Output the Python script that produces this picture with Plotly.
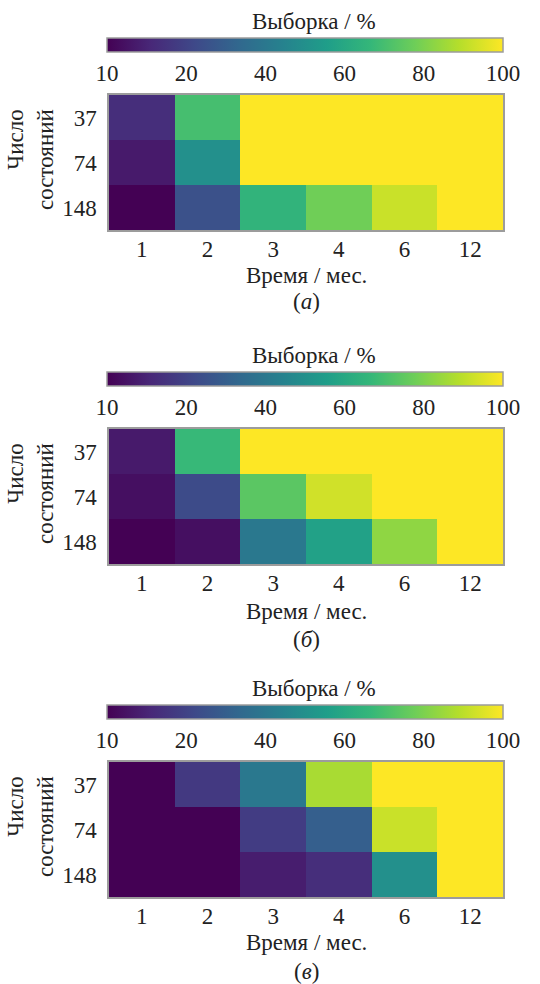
import numpy as np
import plotly.graph_objects as go

# Categories
months = ["1", "2", "3", "4", "6", "12"]
states = ["37", "74", "148"]
cbar_ticks = [10, 20, 40, 60, 80, 100]
panel_labels = ["(<i>а</i>)", "(<i>б</i>)", "(<i>в</i>)"]

# Sample share (%) per number of states (rows) and time span (columns)
sample_a = [[16.5, 70, 100, 100, 100, 100],
            [13.5, 50, 100, 100, 100, 100],
            [10, 25, 65, 78, 92, 100]]
sample_b = [[13.5, 67, 100, 100, 100, 100],
            [12, 23, 74, 93, 100, 100],
            [10, 12, 40, 57, 83, 100]]
sample_c = [[10, 18.5, 40, 87, 100, 100],
            [10, 10, 19, 30, 92, 100],
            [10, 10, 14, 16.5, 50, 100]]

panels = [sample_a, sample_b, sample_c]

W, H = 540, 984
FONT = "Liberation Serif, Times New Roman, serif"
TXT = "#222222"
EDGE = "#9c9c9c"
FS = 23


def py(px):
    return 1 - px / H


# colour norm: piecewise-linear between the colourbar tick values
def norm(vals):
    return np.interp(np.asarray(vals, dtype=float), cbar_ticks, np.arange(len(cbar_ticks)))


fig = go.Figure()
offsets = [0, 334, 667]
hm_left, hm_right = 109, 503
cb_left, cb_right = 107, 503
title_y = [275, 277, 275]
label_y = [301, 305, 304]

annotations = []
for i, (vals, off) in enumerate(zip(panels, offsets)):
    n = "" if i == 0 else str(i + 1)
    ca = "coloraxis" + n
    fig.add_trace(go.Heatmap(
        z=norm(vals), x=months, y=states, customdata=vals,
        hovertemplate="%{customdata}%<extra></extra>",
        coloraxis=ca, xaxis="x" + n, yaxis="y" + n,
    ))
    top, bot = 95 + off, 230 + off
    axis_common = dict(showline=True, mirror=True, linecolor=EDGE, linewidth=1.5,
                       showgrid=False, zeroline=False, ticks="",
                       tickfont=dict(family=FONT, size=FS, color=TXT))
    fig.layout["xaxis" + n] = dict(domain=[hm_left / W, hm_right / W], anchor="y" + n,
                                   ticklabelstandoff=-2, **axis_common)
    fig.layout["yaxis" + n] = dict(domain=[py(bot), py(top)], anchor="x" + n,
                                   autorange="reversed", ticklabelstandoff=6,
                                   **axis_common)
    fig.layout[ca] = dict(
        cmin=0, cmax=len(cbar_ticks) - 1, colorscale="Viridis",
        colorbar=dict(
            orientation="h", lenmode="pixels", len=cb_right - cb_left,
            thickness=14, x=cb_left / W, xanchor="left",
            y=py(38 + off), yanchor="top", xpad=0, ypad=0,
            outlinecolor=EDGE, outlinewidth=1.5,
            tickvals=list(range(len(cbar_ticks))),
            ticktext=[str(t) for t in cbar_ticks],
            ticks="",
            tickfont=dict(family=FONT, size=FS, color=TXT),
        ),
    )
    annotations += [
        dict(text="Выборка / %", x=314 / W, y=py(21 + off)),
        dict(text="Время / мес.", x=306 / W, y=py(title_y[i] + off)),
        dict(text=panel_labels[i], x=306 / W, y=py(label_y[i] + off)),
        dict(text="Число<br>состояний", x=30 / W, y=py(160 + off), textangle=-90,
             align="right"),
    ]

for a in annotations:
    a.update(xref="paper", yref="paper", showarrow=False, xanchor="center",
             yanchor="middle", font=dict(family=FONT, size=FS, color=TXT))

fig.update_layout(
    width=W, height=H, autosize=False,
    margin=dict(l=0, r=0, t=0, b=0),
    paper_bgcolor="white", plot_bgcolor="white",
    annotations=annotations,
)

fig.write_html("out.html")
